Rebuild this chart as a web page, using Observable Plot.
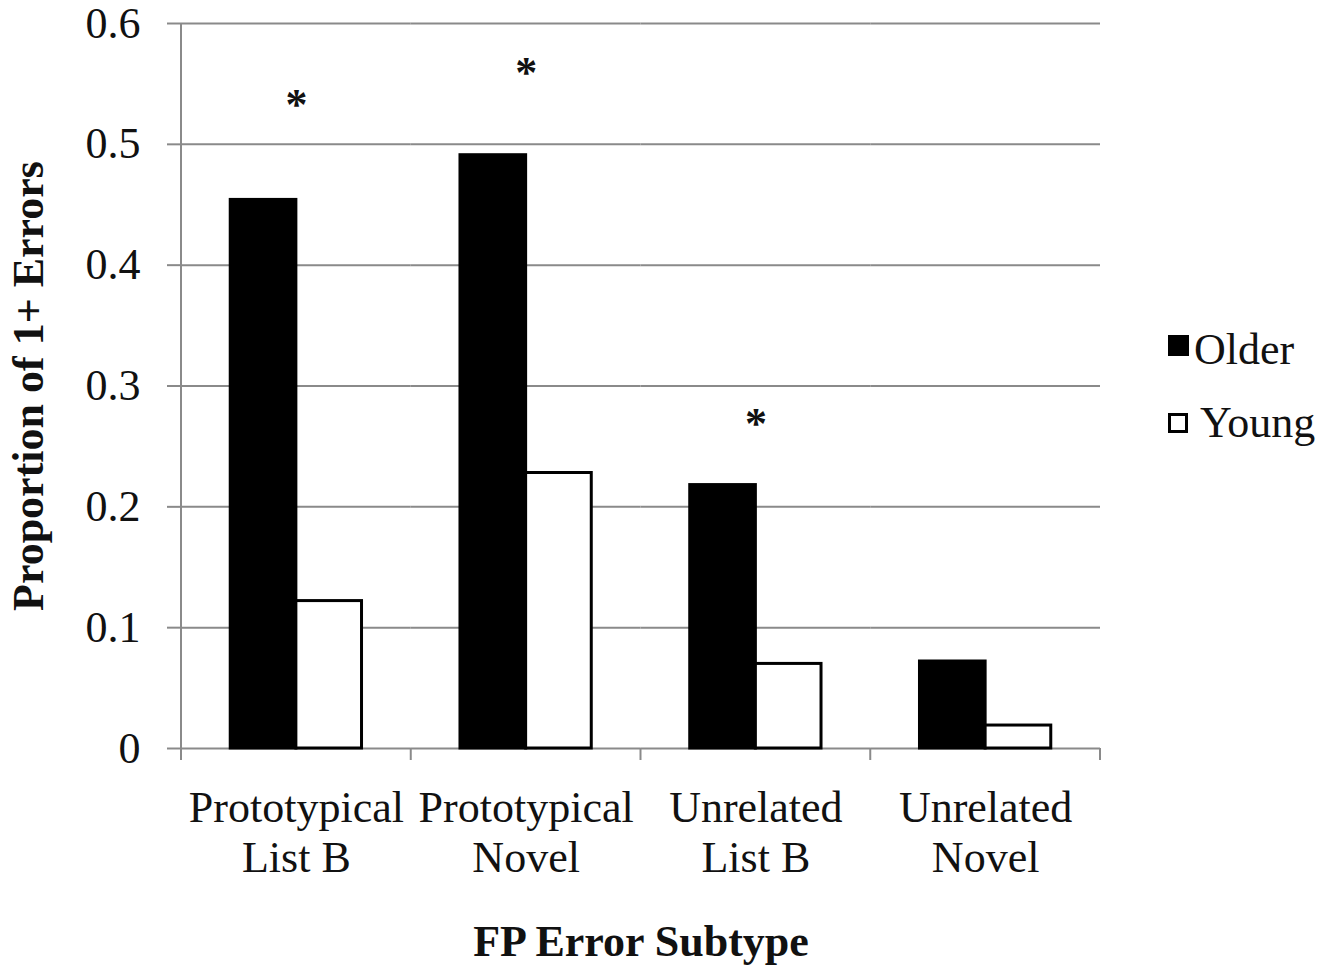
<!DOCTYPE html>
<html>
<head>
<meta charset="utf-8">
<script src="https://cdn.jsdelivr.net/npm/d3@7"></script>
<script src="https://cdn.jsdelivr.net/npm/@observablehq/plot@0.6"></script>
<style>
  body { margin: 0; background: #fff; }
  #wrap { position: relative; width: 1336px; height: 967px; }
  #legend { position: absolute; left: 0; top: 0; font-family: "Liberation Serif", serif; font-size: 44px; color: #111; }
  .sw { position: absolute; box-sizing: border-box; }
  .lt { position: absolute; line-height: 44px; white-space: nowrap; }
</style>
</head>
<body>
<div id="wrap"><div id="legend"></div></div>
<script>
// ---- data ----
const categories = ["Prototypical\nList B", "Prototypical\nNovel", "Unrelated\nList B", "Unrelated\nNovel"];
const groups = ["Older", "Young"];
const older = [0.454, 0.491, 0.218, 0.072];
const young = [0.122, 0.228, 0.070, 0.019];
const sigCategories = ["Prototypical\nList B", "Prototypical\nNovel", "Unrelated\nList B"];
const sigY = [0.533, 0.559, 0.269];
const yTicks = [0, 0.1, 0.2, 0.3, 0.4, 0.5, 0.6];
const yTickLabels = ["0", "0.1", "0.2", "0.3", "0.4", "0.5", "0.6"];
const groupColors = ["#000000", "#ffffff"];

const data = categories.flatMap((c, i) => [
  {cat: c, group: groups[0], value: older[i]},
  {cat: c, group: groups[1], value: young[i]}
]);
const stars = sigCategories.map((c, i) => ({cat: c, y: sigY[i]}));

const gridColor = "#8a8a8a";

const chart = Plot.plot({
  width: 1336,
  height: 967,
  marginLeft: 181,
  marginRight: 236,
  marginTop: 23,
  marginBottom: 219,
  style: {fontFamily: "Liberation Serif, serif", fontSize: "44px", color: "#111", background: "#fff"},
  fx: {domain: categories, padding: 0, round: false},
  x: {domain: groups, paddingInner: 0, paddingOuter: 0.75, axis: null, round: false},
  y: {domain: [0, 0.6]},
  color: {domain: groups, range: groupColors},
  marks: [
    Plot.gridY(yTicks, {stroke: gridColor, strokeOpacity: 1, strokeWidth: 2}),
    Plot.axisY(yTicks, {
      tickSize: 14, tickPadding: 27, stroke: gridColor, strokeWidth: 2,
      tickFormat: d => yTickLabels[yTicks.indexOf(d)],
      label: "Proportion of 1+ Errors", labelAnchor: "center", labelArrow: "none", labelOffset: 170
    }),
    Plot.axisFx({
      anchor: "bottom", tickSize: 0, tickPadding: 38, lineHeight: 1.13,
      label: "FP Error Subtype", labelAnchor: "center", labelArrow: "none", labelOffset: 207
    }),
    Plot.barY(data, {fx: "cat", x: "group", y: "value", fill: "group", stroke: "#000", strokeWidth: 3}),
    Plot.text(stars, {fx: "cat", y: "y", text: () => "*", fontSize: 44, fontWeight: "bold", fill: "#111"})
  ]
});

document.getElementById("wrap").prepend(chart);

// post-render: axis line and category boundary ticks using Plot's scales
const svg = d3.select(chart.tagName.toLowerCase() === "svg" ? chart : chart.querySelector("svg"));
const fxS = chart.scale("fx");
const yS = chart.scale("y");
const y0 = yS.apply(0);
const yTop = yS.apply(0.6);
const bounds = categories.map(c => fxS.apply(c));
bounds.push(fxS.apply(categories[categories.length - 1]) + fxS.bandwidth);
const g = svg.append("g").attr("stroke", gridColor).attr("stroke-width", 2);
g.append("line").attr("x1", bounds[0]).attr("x2", bounds[0]).attr("y1", yTop).attr("y2", y0 + 12);
bounds.forEach(b => g.append("line").attr("x1", b).attr("x2", b).attr("y1", y0).attr("y2", y0 + 12));
svg.selectAll('g[aria-label="y-axis label"] text, g[aria-label="fx-axis label"] text').attr("font-weight", "bold");

// legend (HTML, beside chart)
const legend = document.getElementById("legend");
const legendLayout = [
  {sw: {left: 1168, top: 335, size: 21}, text: {left: 1194, top: 328}},
  {sw: {left: 1168, top: 413, size: 20}, text: {left: 1200, top: 401}}
];
groups.forEach((gname, i) => {
  const L = legendLayout[i];
  const s = document.createElement("div");
  s.className = "sw";
  s.style.left = L.sw.left + "px"; s.style.top = L.sw.top + "px";
  s.style.width = L.sw.size + "px"; s.style.height = L.sw.size + "px";
  s.style.background = groupColors[i];
  s.style.border = "3px solid #000";
  legend.appendChild(s);
  const t = document.createElement("div");
  t.className = "lt";
  t.style.left = L.text.left + "px"; t.style.top = L.text.top + "px";
  t.textContent = gname;
  legend.appendChild(t);
});
</script>
</body>
</html>
